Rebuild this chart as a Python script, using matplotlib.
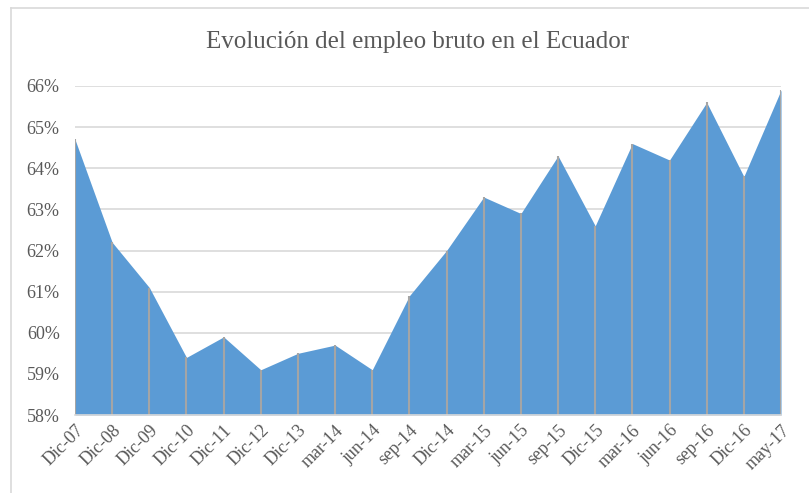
import matplotlib.pyplot as plt
from matplotlib.lines import Line2D
import numpy as np

periods = ['Dic-07', 'Dic-08', 'Dic-09', 'Dic-10', 'Dic-11', 'Dic-12', 'Dic-13',
           'mar-14', 'jun-14', 'sep-14', 'Dic-14', 'mar-15', 'jun-15', 'sep-15',
           'Dic-15', 'mar-16', 'jun-16', 'sep-16', 'Dic-16', 'may-17']
empleo = [64.7, 62.2, 61.1, 59.4, 59.9, 59.1, 59.5, 59.7, 59.1, 60.9,
          62.0, 63.3, 62.9, 64.3, 62.6, 64.6, 64.2, 65.6, 63.8, 65.9]
yticks = [58, 59, 60, 61, 62, 63, 64, 65, 66]

plt.rcParams['font.family'] = ['Liberation Serif', 'DejaVu Serif']
txt = '#595959'

fig = plt.figure(figsize=(8.09, 4.93), dpi=100)
ax = fig.add_axes([75/809, 1 - 415/493, (781 - 75)/809, (415 - 86)/493])

x = np.arange(len(periods))
ax.fill_between(x, 58, empleo, color='#5B9BD5', linewidth=0, zorder=2)
ax.vlines(x, 58, empleo, color='#A5A5A5', linewidth=1.5, zorder=3)

ax.set_xlim(0, len(periods) - 1)
ax.set_ylim(58, 66)
ax.set_yticks(yticks)
ax.set_yticklabels([f'{v}%' for v in yticks], color=txt, fontsize=13)
ax.set_xticks(x)
ax.set_xticklabels(periods, rotation=45, ha='right', rotation_mode='anchor',
                   color=txt, fontsize=13)
ax.tick_params(length=0)
ax.tick_params(axis='y', pad=11)
ax.tick_params(axis='x', pad=5)
ax.yaxis.grid(True, color='#D9D9D9', linewidth=1.2, zorder=0)
ax.set_axisbelow(True)
for s in ['top', 'right', 'left']:
    ax.spines[s].set_visible(False)
ax.spines['bottom'].set_color('#D9D9D9')
ax.spines['bottom'].set_linewidth(1.2)
ax.spines['bottom'].set_zorder(4)

fig.text(418/809, 1 - 42/493, 'Evolución del empleo bruto en el Ecuador',
         ha='center', va='center', fontsize=18, color=txt)

# chart border (top and left edges visible)
fig.add_artist(Line2D([11/809, 1], [1 - 8/493, 1 - 8/493], color='#D9D9D9', linewidth=1.2))
fig.add_artist(Line2D([11/809, 11/809], [0, 1 - 8/493], color='#D9D9D9', linewidth=1.2))

fig.savefig('out.png', dpi=100)
